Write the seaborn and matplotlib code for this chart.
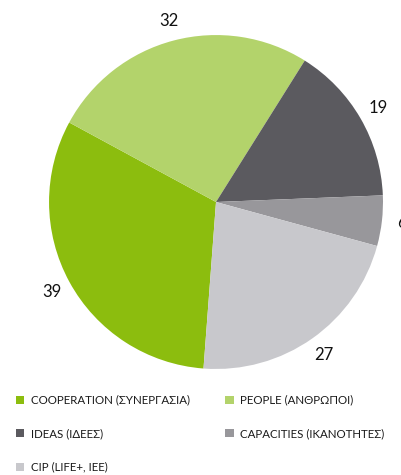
import matplotlib
matplotlib.use("Agg")
import matplotlib.pyplot as plt
import seaborn as sns
from matplotlib.patches import Patch

categories = ["COOPERATION (ΣΥΝΕΡΓΑΣΙΑ)", "PEOPLE (ΑΝΘΡΩΠΟΙ)", "IDEAS (ΙΔΕΕΣ)",
              "CAPACITIES (ΙΚΑΝΟΤΗΤΕΣ)", "CIP (LIFE+, IEE)"]
values = [39, 32, 19, 6, 27]
colors = ["#8cbd0e", "#b3d36b", "#5b5a5f", "#98979b", "#c8c8cc"]

sns.set_theme(style="white")
plt.rcParams['font.family'] = ['Lato', 'DejaVu Sans']

fig = plt.figure(figsize=(4.01, 4.75), dpi=100)
ax = fig.add_axes([0.1222, 0.2232, 0.833, 0.703])
wedges, texts = ax.pie(values, colors=colors, startangle=265.7, counterclock=False,
                       labels=[str(v) for v in values], labeldistance=1.12,
                       textprops=dict(fontsize=12, color="#111111", ha="center", va="center"),
                       wedgeprops=dict(linewidth=0))
ax.set_aspect("equal")
ax.set_xlim(-1, 1)
ax.set_ylim(-1, 1)
ax.axis("off")
for t in texts:
    t.set_clip_on(False)

order = [0, 2, 4, 1, 3]
handles = [Patch(facecolor=colors[i], edgecolor="none") for i in order]
labs = [categories[i] for i in order]
fig.legend(handles, labs, loc="upper left", bbox_to_anchor=(0.025, 0.181), ncol=2,
           frameon=False, fontsize=8.3, handlelength=0.75, handleheight=0.75,
           handletextpad=0.6, columnspacing=3.0, labelspacing=1.95, borderpad=0,
           labelcolor="#1a1a1a")

fig.savefig("out.png", dpi=100)
